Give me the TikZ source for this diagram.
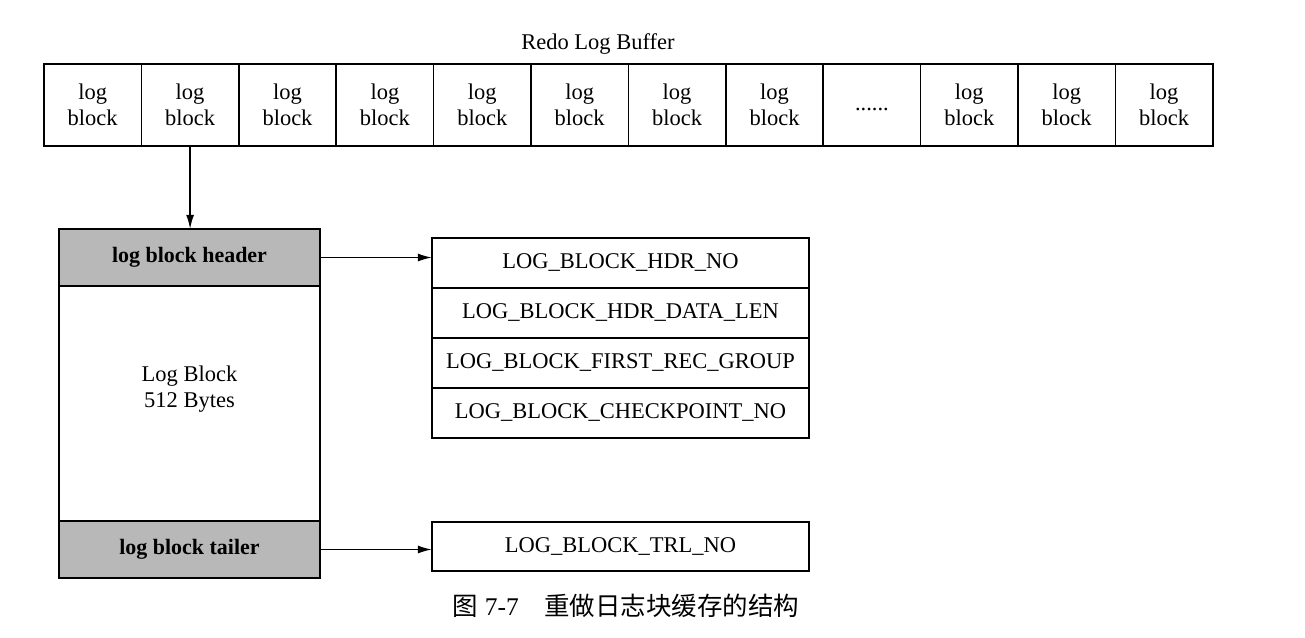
\documentclass[tikz,border=0pt]{standalone}
\usepackage{fontspec}
\setmainfont{Liberation Serif}
\newfontfamily\cjk{Noto Sans CJK SC}
\usetikzlibrary{arrows.meta}
\begin{document}
\begin{tikzpicture}[x=0.02cm,y=-0.02cm,
  every node/.style={inner sep=0pt,outer sep=0pt},
  txt/.style={font=\fontsize{12.8}{14.8}\selectfont,align=center},
  cell/.style={txt,draw,line width=0.9pt,minimum width=1.948cm,minimum height=1.64cm},
  part/.style={draw,line width=0.9pt,minimum width=5.22cm},
  shade/.style={part,fill=black!28,font=\fontsize{12.5}{14}\selectfont\bfseries},
  field/.style={txt,draw,line width=0.9pt,minimum width=7.54cm,minimum height=1cm,text height=0.66em,text depth=0pt},
  arr/.style={line width=0.9pt,-{Latex[length=8pt,width=4.5pt]}}]
\useasboundingbox (0,0) rectangle (1305,637);
\node[txt] (title) at (598,44) {Redo Log Buffer};
\foreach \i/\t in {1/{log\\block},2/{log\\block},3/{log\\block},4/{log\\block},5/{log\\block},6/{log\\block},7/{log\\block},8/{log\\block},9/{\smash{\raisebox{-3pt}{......}}},10/{log\\block},11/{log\\block},12/{log\\block}}{
  \node[cell] (c\i) at ({44+97.4*(\i-0.5)},105) {\t};
}
\node[shade,minimum height=1.14cm] (hdr) at (189.5,257.5) {log block header};
\node[part,minimum height=4.7cm] (body) at (189.5,403.5) {};
\node[txt] (bodytxt) at (189.5,389) {Log Block\\512 Bytes};
\node[shade,minimum height=1.14cm] (tl) at (189.5,549.5) {log block tailer};
\node[field] (f1) at (620.5,263) {LOG\_BLOCK\_HDR\_NO};
\node[field] (f2) at (620.5,313) {LOG\_BLOCK\_HDR\_DATA\_LEN};
\node[field] (f3) at (620.5,363) {LOG\_BLOCK\_FIRST\_REC\_GROUP};
\node[field] (f4) at (620.5,413) {LOG\_BLOCK\_CHECKPOINT\_NO};
\node[field,minimum height=0.98cm] (trl) at (620.5,546.5) {LOG\_BLOCK\_TRL\_NO};
\draw[arr] (c2.south) -- (c2.south |- hdr.north);
\draw[arr] (hdr.east) -- (f1.west |- hdr.east);
\draw[arr] (tl.east) -- (trl.west |- tl.east);
\node[font=\fontsize{14.5}{17}\selectfont] (cap) at (626,606) {{\cjk 图} 7-7\quad {\cjk 重做日志块缓存的结构}};
\end{tikzpicture}
\end{document}
